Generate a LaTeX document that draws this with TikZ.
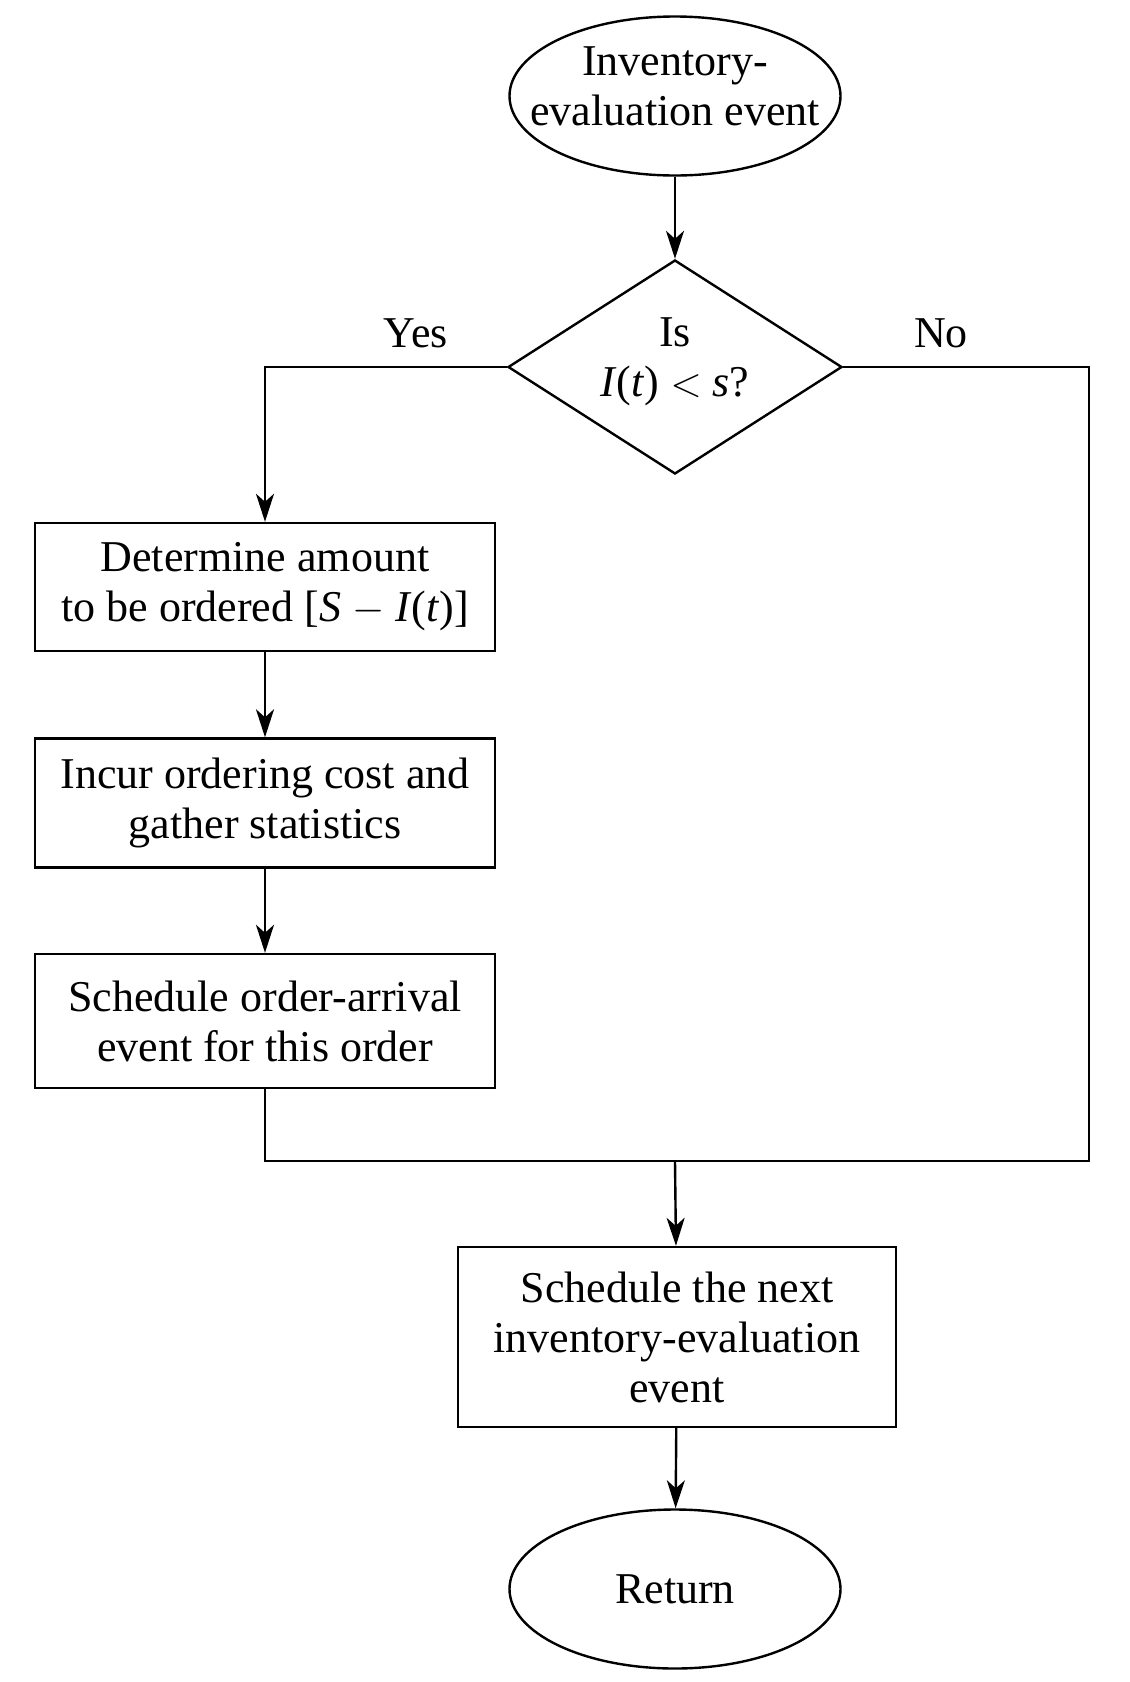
\documentclass[tikz,border=0pt]{standalone}
\usepackage{fontspec}
\setmainfont{Liberation Serif}
\usepackage{tikz}
\usetikzlibrary{shapes.geometric,arrows.meta}

\begin{document}
\begin{tikzpicture}[x=0.5pt,y=-0.5pt,
                      font=\fontsize{22}{25}\selectfont,
                      line width=1.2pt,
                      arr/.style={-{Stealth[length=14pt,width=9pt,inset=4pt]}},
                      endpt/.style={draw,ellipse,minimum width=165.5pt,minimum height=79.5pt,
                        inner xsep=-14pt,inner ysep=0pt,align=center},
                      test/.style={draw,diamond,aspect=1.56,minimum width=167pt,minimum height=107pt,
                        inner sep=0pt,align=center},
                      stepbox/.style={draw,rectangle,minimum width=230pt,inner sep=0pt,align=center}]
                      \useasboundingbox (0,0) rectangle (1130,1682);
                      \begin{scope}
                        \node[endpt,text depth=10pt] (start) at (675,96) {Inventory-\\evaluation event};
                        \node[test,text depth=10pt] (check) at (675,367)
                          {Is\\\textit{I}(\textit{t}) $<$ \textit{s}?};
                        \node (yes) at (416,333) {Yes};
                        \node (no) at (941,333) {No};
                        \node[stepbox,minimum height=64pt] (amount) at (265,587)
                          {Determine amount\\to be ordered [\textit{S} $-$ \textit{I}(\textit{t})]};
                        \node[stepbox,minimum height=64.5pt] (cost) at (265,803)
                          {Incur ordering cost and\\gather statistics};
                        \node[stepbox,minimum height=67pt] (arrival) at (265,1021)
                          {Schedule order-arrival\\event for this order};
                        \node[stepbox,minimum width=219pt,minimum height=90pt] (next) at (677,1337)
                          {Schedule the next\\inventory-evaluation\\event};
                        \node[endpt] (return) at (675,1589) {Return};
                        \coordinate (corner) at (1089,1161);
                        \coordinate (merge) at (675,1161);
                        \draw[arr] (start) -- (check);
                        \draw[arr] (check.west) -| (amount.north);
                        \draw[arr] (amount) -- (cost);
                        \draw[arr] (cost) -- (arrival);
                        \draw (check.east) -| (corner) -| (arrival.south);
                        \draw[arr] (merge) -- (next);
                        \draw[arr] (next) -- (return);
                      \end{scope}
                    \end{tikzpicture}
\end{document}
